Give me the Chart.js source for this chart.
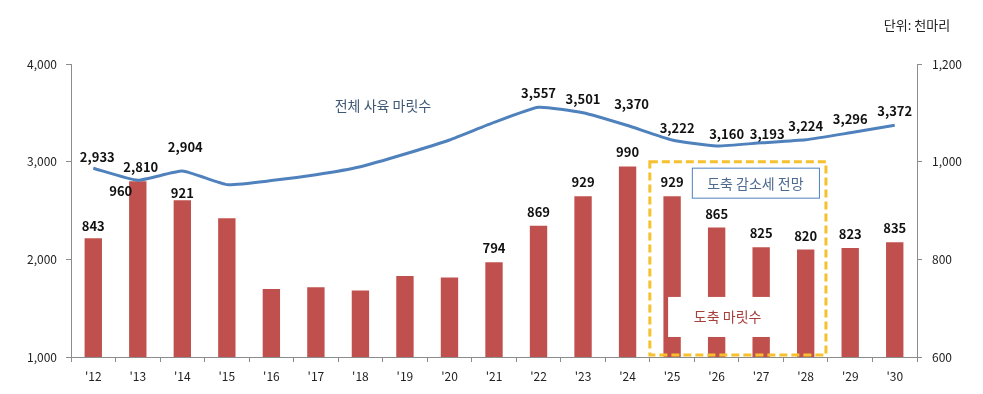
<!DOCTYPE html>
<html>
<head>
<meta charset="utf-8">
<script src="https://cdn.jsdelivr.net/npm/chart.js@4.4.1/dist/chart.umd.min.js"></script>
<style>
  html, body { margin: 0; padding: 0; background: #fff; }
  #wrap { width: 983px; height: 394px; position: relative; }
</style>
</head>
<body>
<div id="wrap"><canvas id="chartPigs"></canvas></div>
<script>
// years on the x axis
const years = ["'12", "'13", "'14", "'15", "'16", "'17", "'18", "'19", "'20", "'21",
               "'22", "'23", "'24", "'25", "'26", "'27", "'28", "'29", "'30"];
// 전체 사육 마릿수 (left axis, 천마리)
const totalHerd = [2933, 2810, 2904, 2765, 2806, 2866, 2948, 3078, 3222, 3402,
                   3557, 3501, 3370, 3222, 3160, 3193, 3224, 3296, 3372];
// 도축 마릿수 (right axis, 천마리)
const slaughter = [843, 960, 921, 884, 739, 743, 736, 766, 763, 794,
                   869, 929, 990, 929, 865, 825, 820, 823, 835];
// which points carry a value label
const herdLabelShown = [1, 1, 1, 0, 0, 0, 0, 0, 0, 0, 1, 1, 1, 1, 1, 1, 1, 1, 1];
const slaughterLabelShown = [1, 1, 1, 0, 0, 0, 0, 0, 0, 1, 1, 1, 1, 1, 1, 1, 1, 1, 1];
const leftTicks = [1000, 2000, 3000, 4000];
const rightTicks = [600, 800, 1000, 1200];

const lineColor = '#4f81bd';
const barColor = '#c0504d';
const axisColor = '#8c8c8c';
const font = "'Noto Sans CJK KR', 'Noto Sans', sans-serif";

// label nudges [dx, dy above] where excel moved them around
const herdNudge = { 0: [4, 11], 1: [3, 13], 2: [3, 24], 12: [4, 21], 13: [5, 12], 14: [10, 12], 15: [6, 9] };
const slaughterNudge = { 0: [0, 12], 1: [-17, -10], 2: [0, 7] };

const fmt = v => v.toLocaleString('en-US');

const valueLabels = {
  id: 'valueLabels',
  afterDatasetsDraw(chart) {
    const ctx = chart.ctx;
    ctx.save();
    ctx.font = 'bold 13px ' + font;
    ctx.fillStyle = '#111';
    ctx.textAlign = 'center';
    ctx.textBaseline = 'middle';
    const lineMeta = chart.getDatasetMeta(0);
    lineMeta.data.forEach((pt, i) => {
      if (!herdLabelShown[i]) return;
      const n = herdNudge[i] || [0, 14];
      ctx.fillText(fmt(totalHerd[i]), pt.x + n[0], pt.y - n[1]);
    });
    const barMeta = chart.getDatasetMeta(1);
    barMeta.data.forEach((bar, i) => {
      if (!slaughterLabelShown[i]) return;
      const n = slaughterNudge[i] || [0, 14];
      ctx.fillText(fmt(slaughter[i]), bar.x + n[0], bar.y - n[1]);
    });
    ctx.restore();
  }
};

const notes = {
  id: 'notes',
  afterDraw(chart) {
    const ctx = chart.ctx;
    const x = chart.scales.x, y = chart.scales.y, y1 = chart.scales.y1;
    const area = chart.chartArea;
    ctx.save();

    // white patch with the bar series name
    const wx0 = x.getPixelForValue(13) - 4, wx1 = x.getPixelForValue(15) + 30;
    const wy0 = y1.getPixelForValue(723), wy1 = y1.getPixelForValue(641);
    ctx.fillStyle = '#fff';
    ctx.fillRect(wx0, wy0, wx1 - wx0, wy1 - wy0);
    ctx.font = '14px ' + font;
    ctx.fillStyle = '#a5403b';
    ctx.textAlign = 'center';
    ctx.textBaseline = 'middle';
    ctx.fillText('도축 마릿수', (wx0 + wx1) / 2 - 2, (wy0 + wy1) / 2);

    // forecast dashed frame
    const fx0 = (x.getPixelForValue(12) + x.getPixelForValue(13)) / 2;
    const fx1 = (x.getPixelForValue(16) + x.getPixelForValue(17)) / 2 - 2;
    const fy0 = y1.getPixelForValue(1000);
    const fy1 = area.bottom - 2;
    ctx.strokeStyle = '#f7c02e';
    ctx.lineWidth = 3;
    ctx.setLineDash([8, 4]);
    ctx.strokeRect(fx0, fy0, fx1 - fx0, fy1 - fy0);
    ctx.setLineDash([]);

    // blue box
    const bx0 = fx0 + 42, bx1 = fx1 - 7;
    const by0 = fy0 + 6, by1 = fy0 + 36;
    ctx.fillStyle = '#fff';
    ctx.fillRect(bx0, by0, bx1 - bx0, by1 - by0);
    ctx.strokeStyle = '#4f81bd';
    ctx.lineWidth = 1;
    ctx.strokeRect(bx0 + 0.5, by0 + 0.5, bx1 - bx0, by1 - by0);
    ctx.fillStyle = '#4e6a91';
    ctx.font = '14px ' + font;
    ctx.fillText('도축 감소세 전망', (bx0 + bx1) / 2, (by0 + by1) / 2 + 1);

    // line series name
    ctx.fillStyle = '#3f5878';
    ctx.fillText('전체 사육 마릿수', x.getPixelForValue(7) - 22, y.getPixelForValue(3570));

    // unit
    ctx.fillStyle = '#222';
    ctx.font = '13px ' + font;
    ctx.fillText('단위: 천마리', area.right, 25);
    ctx.restore();
  }
};

function chartPigs() {
  const canvas = document.getElementById('chartPigs');
  canvas.width = 983;
  canvas.height = 394;
  new Chart(canvas.getContext('2d'), {
    type: 'bar',
    data: {
      labels: years,
      datasets: [{
        type: 'line',
        label: '전체 사육 마릿수',
        data: totalHerd,
        yAxisID: 'y',
        borderColor: lineColor,
        borderWidth: 3,
        pointRadius: 0,
        tension: 0.15,
        order: 0
      }, {
        type: 'bar',
        label: '도축 마릿수',
        data: slaughter,
        yAxisID: 'y1',
        backgroundColor: barColor,
        barPercentage: 0.39,
        categoryPercentage: 1,
        order: 1
      }]
    },
    options: {
      responsive: false,
      animation: false,
      layout: { padding: { top: 64, left: 0, right: 0, bottom: 0 } },
      plugins: { legend: { display: false }, tooltip: { enabled: false } },
      scales: {
        x: {
          grid: { drawOnChartArea: false, tickLength: 5, color: axisColor },
          border: { color: axisColor },
          ticks: { color: '#222', font: { family: font, size: 12 }, padding: 7 },
          afterFit(s) { s.height = 37; }
        },
        y: {
          position: 'left',
          min: leftTicks[0],
          max: leftTicks[leftTicks.length - 1],
          afterBuildTicks(s) { s.ticks = leftTicks.map(v => ({ value: v })); },
          grid: { drawOnChartArea: false, tickLength: 5, color: axisColor },
          border: { color: axisColor },
          ticks: { color: '#222', font: { family: font, size: 12 }, padding: 9, callback: v => fmt(v) },
          afterFit(s) { s.width = 71; }
        },
        y1: {
          position: 'right',
          min: rightTicks[0],
          max: rightTicks[rightTicks.length - 1],
          afterBuildTicks(s) { s.ticks = rightTicks.map(v => ({ value: v })); },
          grid: { drawOnChartArea: false, tickLength: 5, color: axisColor },
          border: { color: axisColor },
          ticks: { color: '#222', font: { family: font, size: 12 }, padding: 10, callback: v => fmt(v) },
          afterFit(s) { s.width = 66; }
        }
      }
    },
    plugins: [valueLabels, notes]
  });
}

document.addEventListener('DOMContentLoaded', function () {
  chartPigs();
});
</script>
</body>
</html>
